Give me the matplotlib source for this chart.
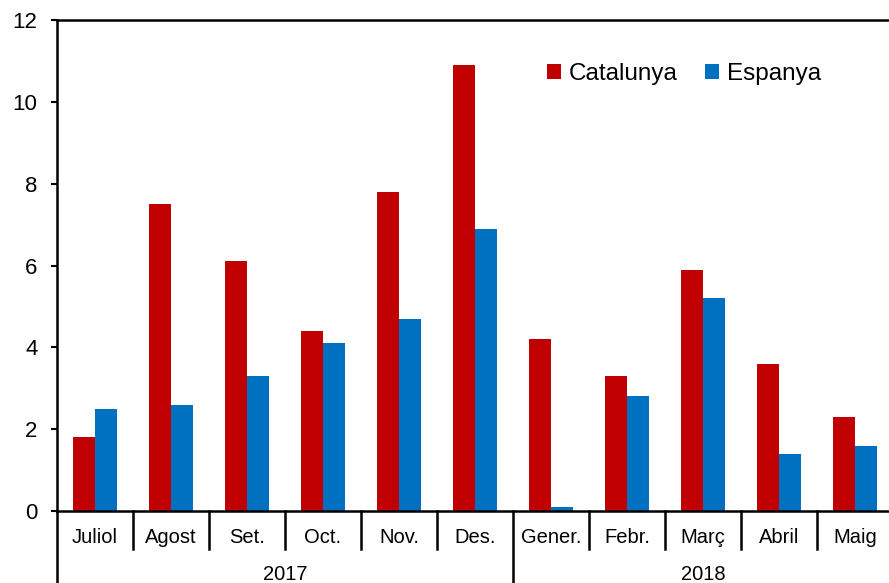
import matplotlib
matplotlib.use("Agg")
import matplotlib.pyplot as plt
import numpy as np

plt.rcParams['font.family'] = ['Liberation Sans', 'DejaVu Sans']

months = ['Juliol', 'Agost', 'Set.', 'Oct.', 'Nov.', 'Des.',
          'Gener.', 'Febr.', 'Març', 'Abril', 'Maig']
years = ['2017', '2018']
year_counts = [6, 5]
catalunya = [1.8, 7.5, 6.1, 4.4, 7.8, 10.9, 4.2, 3.3, 5.9, 3.6, 2.3]
espanya = [2.5, 2.6, 3.3, 4.1, 4.7, 6.9, 0.1, 2.8, 5.2, 1.4, 1.6]

red = '#C00000'
blue = '#0070C0'

fig = plt.figure(figsize=(8.89, 5.83), dpi=100)
W, H = 889, 583
ax = fig.add_axes([57 / W, (H - 511) / H, (893 - 57) / W, (511 - 20) / H])

x = np.arange(len(months))
bw = 0.29
ax.bar(x - bw / 2, catalunya, bw, color=red, label='Catalunya')
ax.bar(x + bw / 2, espanya, bw, color=blue, label='Espanya')

ax.set_xlim(-0.5, len(months) - 0.5)
ax.set_ylim(0, 12)
ax.set_yticks(np.arange(0, 13, 2))
ax.tick_params(axis='y', direction='out', length=4, width=1.5, labelsize=16, pad=10)

for s in ['left', 'top', 'bottom']:
    ax.spines[s].set_linewidth(1.8)
ax.spines['right'].set_visible(False)

# month labels and separators
ax.set_xticks(x)
ax.set_xticklabels(months, fontsize=14.5)
ax.tick_params(axis='x', length=0, pad=12)
trans = ax.get_xaxis_transform()
month_depth = -38 / 491
year_depth = -75 / 491
year_starts = np.cumsum([0] + year_counts)
for b in np.arange(len(months) + 1) - 0.5:
    depth = year_depth if (b + 0.5) in year_starts[:-1] else month_depth
    ax.plot([b, b], [0, depth], color='black', lw=1.8, transform=trans, clip_on=False)

# year labels
for i, yr in enumerate(years):
    ax.text((year_starts[i] + year_starts[i + 1] - 1) / 2, -63 / 491, yr,
            transform=trans, ha='center', va='center', fontsize=14.5)

ax.legend(loc='center', bbox_to_anchor=(684 / W, 1 - 74 / H), bbox_transform=fig.transFigure,
          ncol=2, frameon=False, fontsize=17.5, handlelength=0.58, handleheight=0.58,
          handletextpad=0.3, columnspacing=1.15, borderpad=0)

fig.savefig('out.png', dpi=100)
